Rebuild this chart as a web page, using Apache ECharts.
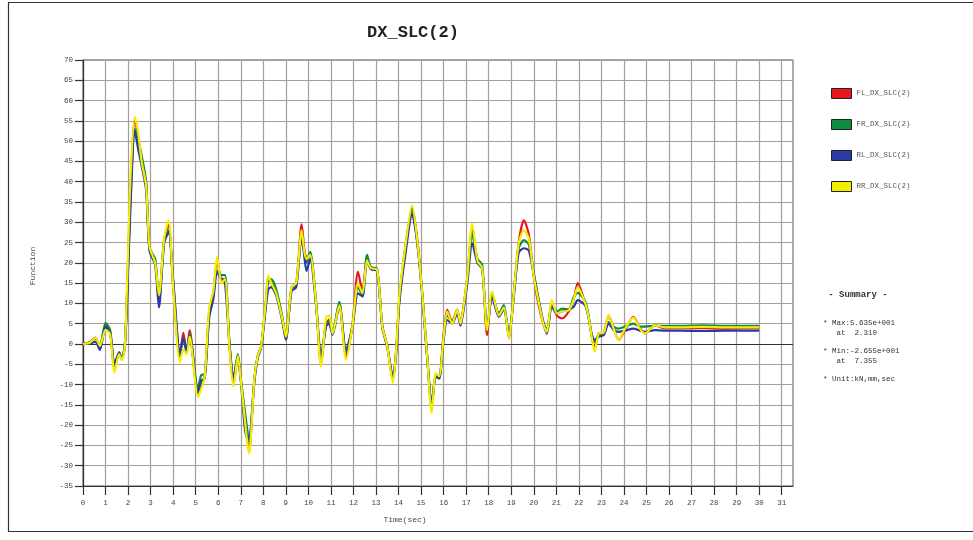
<!DOCTYPE html>
<html><head><meta charset="utf-8">
<script src="https://cdn.jsdelivr.net/npm/echarts/dist/echarts.min.js"></script>
<style>html,body{margin:0;padding:0;background:#fff}#c{width:973px;height:540px}</style>
</head><body><div id="c"></div>
<script>
var seriesNames = ['FL_DX_SLC(2)', 'FR_DX_SLC(2)', 'RL_DX_SLC(2)', 'RR_DX_SLC(2)'];
var times = [0,0.3,0.55,0.75,1.0,1.2,1.4,1.6,1.72,1.85,1.95,2.1,2.3,2.45,2.6,2.8,2.95,3.2,3.37,3.6,3.8,4.0,4.3,4.45,4.6,4.73,5.1,5.25,5.4,5.6,5.78,5.95,6.15,6.3,6.5,6.68,6.87,7.0,7.26,7.37,7.6,7.75,7.9,8.1,8.22,8.35,8.57,8.85,9.0,9.25,9.46,9.7,9.83,9.92,10.08,10.34,10.56,10.78,10.92,11.07,11.37,11.67,11.95,12.2,12.4,12.6,12.77,13.05,13.28,13.5,13.75,13.9,14.03,14.3,14.6,14.83,15.05,15.27,15.47,15.65,15.8,16.0,16.16,16.38,16.6,16.75,16.9,17.05,17.27,17.5,17.71,17.93,18.15,18.45,18.67,18.9,19.1,19.33,19.56,19.78,20.0,20.2,20.44,20.58,20.8,21.03,21.25,21.55,21.77,21.95,22.28,22.43,22.57,22.7,22.88,23.1,23.32,23.54,23.76,24.05,24.42,24.7,24.94,25.38,25.8,26.5,27.5,28.5,29.5,30.0];
var redVals = [0,0.4,1.6,-0.8,4.5,3.2,-6,-2.2,-3.6,-0.6,12,37,55.5,51,45.5,39.5,24,20.5,11,25,29.5,14,-3,2.8,-2,3.4,-12.5,-10.5,-8,8,12.5,20.7,16,16,-0.7,-10,-3,-8.7,-22,-26.5,-8.7,-3,-0.7,9.5,16.5,15,12.5,6,1.5,14,15,29.5,23,21.5,22,10,-5,5,6,2.6,10,-3,4.5,17.8,13,21,18.5,18,4.5,-0.5,-9,-1,11,23,33.5,26,12.5,-3,-16,-7.5,-8,2.5,8.4,5.5,8.5,5,10,16.5,28.5,20.5,18.7,2.2,12.5,7.5,9,1.4,11.6,25,30.5,27,16.5,10,4.6,3,10,7,6.3,8,11,15,10,6.7,1.8,-1,2.6,2.8,7,4,1,3.5,6.7,4,2.6,4.6,3.9,3.9,3.9,3.8,3.9,3.9];
var greenVals = [0,0.4,1.3,-0.5,5.2,3.5,-5.5,-2,-3.5,-0.6,11,35,53,50,46.5,40,23.5,21,10.5,26,28,15,-2.5,1.5,-1.8,2.5,-11,-7.6,-7.5,7.5,12,18,17,17,0,-8.5,-2.5,-8.5,-20,-24,-9,-3,-0.8,9,15.5,16,13.5,6.5,1.2,13.5,14.5,27,22,20,22.7,10.5,-3.5,4.5,5.5,3,10.4,-2,4.5,14,12,22,19,18.5,4.3,-0.6,-8.5,-1.5,10.5,24,33,25,12.5,-3,-15,-8,-8.5,1.8,7,5.5,8,5.5,9.5,16,27,21,19.5,3.5,12,7.5,9.6,2,11.5,23.5,25.6,24.5,17.5,11.5,5,3.5,9.8,8,8.7,8.5,11.6,12.6,10.5,7,2,0.5,2.2,2.6,5.4,4.3,3.8,4.3,5,4.3,4.3,4.5,4.5,4.5,4.6,4.5,4.5,4.5];
var blueVals = [0,0.2,0.5,-1.5,4.2,2.8,-5,-2.2,-3.8,-0.8,10,33,52.5,48,44,38,23,19.5,9,25,27.5,16,-2,1.4,-2,2,-12,-9,-8.5,6.5,11,17.5,16,15,0,-8,-3,-9,-23,-23,-9.5,-3.5,-1,8.5,13.5,14,12,5.5,1,13,14,26.5,21,18,21,9.5,-3,4.3,5,2.3,9.2,-1.5,4,12.5,11.7,20.5,18.5,18,4,-0.8,-8,-2,10,22,32,25,12,-3.5,-14.6,-8,-8.5,1,5.9,5,7.5,4.5,9,15,24.8,20,18.5,3.8,11.5,6.7,8.5,2.2,11,22.5,23.6,23,17,11,5,2.5,9.2,7.5,8,8.5,9.2,10.8,9.5,6.5,2.5,1,1.8,2.2,5,3.5,3,3.3,3.8,3.3,3,3.4,3.3,3.3,3.2,3.3,3.3,3.3];
var yellowVals = [0,0.3,1.5,-0.5,3.5,2.5,-7,-2.5,-4,-1,14,40,56,52,45,39,24,20,12,26,30.5,14,-4.5,-1.4,-2.5,1.8,-13,-11,-8,9,13,21.5,15,16,-1,-10.5,-3,-8.7,-23,-27,-8.7,-3,-0.7,10,17,15,12.5,6,1.8,14,15,28,22.4,21,22,10,-5.6,6.5,7,2.6,9.5,-3.9,4.3,15,12.5,20.6,18.7,18.3,4.3,-0.6,-9.6,-1,11.6,24,34.2,25.6,12.5,-3.1,-17,-7.2,-8,1.8,8,5,8.4,5,10,16.6,29.7,20.5,18.7,3.4,13,7,9,1.4,11.6,24.8,28,26,16.6,10.8,4.6,3,10.8,7.5,8,8.3,11,14,10,6.7,1.8,-1.9,2.6,2.8,7,3.8,1,3.8,6.5,3.8,2.6,4.6,4.1,4.1,4.2,4.1,4.1,4.1];
var seriesColors = ['#e8141e', '#0b8c3e', '#2b3aa6', '#f2ee00'];
var xTicks = [0,1,2,3,4,5,6,7,8,9,10,11,12,13,14,15,16,17,18,19,20,21,22,23,24,25,26,27,28,29,30,31];
var summaryLines = ['- Summary -', '* Max:5.635e+001', '   at  2.310', '* Min:-2.655e+001', '   at  7.355', '* Unit:kN,mm,sec'];

var allVals = [redVals, greenVals, blueVals, yellowVals];
var font = '"Liberation Mono", "DejaVu Sans Mono", monospace';
var chart = echarts.init(document.getElementById('c'), null, {renderer: 'canvas'});
var series = allVals.map(function (vals, i) {
  var s = {
    name: seriesNames[i], type: 'line', showSymbol: false, smooth: 0.25,
    data: times.map(function (t, k) { return [t, vals[k]]; }),
    lineStyle: {color: seriesColors[i], width: 2.2},
    itemStyle: {color: seriesColors[i], borderColor: '#222', borderWidth: 1},
    z: 3 + i, animation: false
  };
  if (i === 0) {
    s.markLine = {silent: true, symbol: 'none', label: {show: false},
      lineStyle: {color: '#333', width: 1.2, type: 'solid'}, data: [{yAxis: 0}], z: 2};
  }
  return s;
});
var summaryY = [295, 323, 333, 351, 361, 379];
var graphics = [
  {type: 'rect', shape: {x: 8.5, y: 2.5, width: 1000, height: 529}, style: {fill: 'none', stroke: '#333', lineWidth: 1.2}, silent: true},
  {type: 'text', x: 413, y: 33, style: {text: 'DX_SLC(2)', font: 'bold 17px ' + font, fill: '#222', textAlign: 'center', textVerticalAlign: 'middle'}},
  {type: 'text', x: 33, y: 266, rotation: Math.PI / 2, style: {text: 'Function', font: '8px ' + font, fill: '#444', textAlign: 'center', textVerticalAlign: 'middle'}},
  {type: 'text', x: 405, y: 520, style: {text: 'Time(sec)', font: '8px ' + font, fill: '#444', textAlign: 'center', textVerticalAlign: 'middle'}}
];
summaryLines.forEach(function (line, i) {
  graphics.push({type: 'text', x: i === 0 ? 858 : 823, y: summaryY[i],
    style: {text: line, font: (i === 0 ? 'bold 9px ' : '7.5px ') + font, fill: '#333', textAlign: i === 0 ? 'center' : 'left', textVerticalAlign: 'middle'}});
});
chart.setOption({
  backgroundColor: '#fff',
  animation: false,
  grid: {left: 83, right: 180, top: 60, bottom: 54, show: true, borderColor: '#555', borderWidth: 1},
  legend: {
    orient: 'vertical', left: 826, top: 83, itemWidth: 20, itemHeight: 10, itemGap: 20, icon: 'rect',
    textStyle: {fontFamily: font, fontSize: 7.5, color: '#555'},
    data: seriesNames.map(function (n, i) { return {name: n, itemStyle: {color: seriesColors[i], borderColor: '#222', borderWidth: 1}}; })
  },
  xAxis: {
    type: 'value', min: 0, max: 31.5, interval: 1,
    axisLine: {onZero: false, lineStyle: {color: '#333', width: 1.2}},
    axisTick: {length: 9, customValues: xTicks, lineStyle: {color: '#333', width: 1.2}},
    axisLabel: {margin: 13, customValues: xTicks, fontFamily: font, fontSize: 7.5, color: '#444'},
    splitLine: {show: true, lineStyle: {color: '#a59c9c', width: 1.2}}
  },
  yAxis: {
    type: 'value', min: -35, max: 70, interval: 5,
    axisLine: {show: true, onZero: false, lineStyle: {color: '#333', width: 1.2}},
    axisTick: {show: true, length: 8, lineStyle: {color: '#333', width: 1.2}},
    axisLabel: {margin: 10, fontFamily: font, fontSize: 7.5, color: '#444'},
    splitLine: {show: true, lineStyle: {color: '#a59c9c', width: 1.2}}
  },
  graphic: graphics,
  series: series
});
</script></body></html>
